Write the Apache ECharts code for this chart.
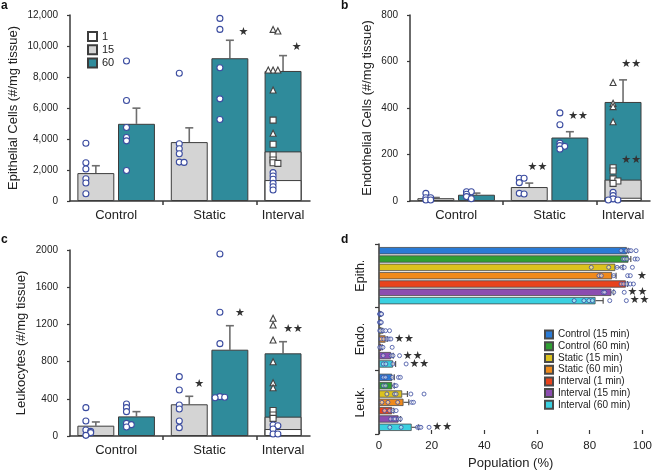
<!DOCTYPE html>
<html><head><meta charset="utf-8">
<script src="https://cdn.jsdelivr.net/npm/echarts@6/dist/echarts.min.js"></script>
<style>html,body{margin:0;padding:0;background:#fff}#c{width:655px;height:471px}</style>
</head><body><div id="c"></div>
<script>
// ================= DATA =================
const groupNames = ['Control', 'Static', 'Interval'];
// bar order: Control-15, Control-60, Static-15, Static-60, Interval-60, Interval-15, Interval-1
const barMinutes = [15, 60, 15, 60, 60, 15, 1];
const barGroup = [0, 0, 1, 1, 2, 2, 2];

// panel a: epithelial cells (#/mg tissue)
const epiMean = [1800, 4980, 3800, 9210, 8390, 3200, 1350];
const epiErr = [475, 1010, 920, 1160, 990, 380, 130];
const epiSig = ['', '', '', '★', '★', '', ''];
const epiPtsC15 = [3730, 2470, 2060, 1440, 1160, 470];
const epiPtsC60 = [9030, 6480, 4740, 4100, 3880, 1970];
const epiPtsS15 = [8240, 3690, 3370, 3050, 2510, 2490];
const epiPtsS60 = [12040, 11780, 11070, 8600, 6590, 5260];
const epiPtsI60 = [11070, 10970, 8450, 8450, 8450, 7160, 4370];
const epiPtsI15 = [5220, 3660, 2970, 2650, 2470, 2430];
const epiPtsI1 = [1830, 1610, 1400, 1140, 920, 710];

// panel b: endothelial cells
const endoMean = [12, 27, 60, 273, 426, 92, 14];
const endoErr = [3, 7, 17, 25, 95, 14, 3];
const endoSig = ['', '', '★★', '★★', '★★', '★★', ''];
const endoPtsC15 = [33, 14, 14, 4, 4];
const endoPtsC60 = [40, 40, 29, 19, 10];
const endoPtsS15 = [98, 98, 79, 33, 30];
const endoPtsS60 = [379, 328, 249, 238, 235, 223];
const endoPtsI60 = [803, 510, 420, 406, 341];
const endoPtsI15 = [143, 129, 95, 86, 76];
const endoPtsI1 = [37, 23, 9, 4, 4];

// panel c: leukocytes
const leukMean = [111, 211, 341, 928, 889, 208, 75];
const leukErr = [40, 51, 86, 258, 125, 21, 15];
const leukSig = ['', '', '★', '★', '★★', '', ''];
const leukPtsC15 = [305, 161, 65, 50, 36, 7];
const leukPtsC60 = [344, 305, 262, 136, 122, 97];
const leukPtsS15 = [638, 495, 333, 290, 161, 90];
const leukPtsS60 = [1957, 1330, 993, 423, 416, 412];
const leukPtsI60 = [1266, 1194, 1032, 799, 573, 519];
const leukPtsI15 = [275, 226, 190];
const leukPtsI1 = [118, 111, 75, 22, 22];

// panel d: population (%)
const popCats = ['Epith.', 'Endo.', 'Leuk.'];
const popNames = ['Control (15 min)', 'Control (60 min)', 'Static (15 min)', 'Static (60 min)',
  'Interval (1 min)', 'Interval (15 min)', 'Interval (60 min)'];
const epiPct = [94.1, 94.7, 89.7, 88.5, 93.7, 88.2, 82.2];
const epiPctErr = [0.5, 0.9, 3.0, 1.5, 0.7, 0.9, 2.9];
const endoPct = [0.5, 0.5, 1.0, 2.5, 0.9, 4.6, 5.3];
const endoPctErr = [0.2, 0.2, 0.4, 0.6, 0.4, 0.8, 1.0];
const leukPct = [5.0, 5.0, 8.8, 9.3, 5.0, 7.4, 12.4];
const leukPctErr = [0.8, 0.8, 2.0, 2.0, 0.6, 0.8, 2.6];
const epiPctPts = [
  [91.9, 93.9, 95.0, 95.7, 97.6], [92.6, 93.2, 94.1, 97.2, 98.1],
  [80.6, 87.2, 90.4, 92.2, 93.1, 96.2], [83.5, 84.4, 89.1, 94.4, 95.4],
  [91.9, 92.9, 94.1, 95.4, 96.6], [85.1, 85.7, 89.1, 93.1],
  [74.1, 77.8, 79.7, 81.0, 87.6, 93.9]];
const endoPctPts = [
  [0.2, 0.4, 0.6, 0.8, 1.0], [0.2, 0.4, 0.6, 0.9],
  [0.3, 0.6, 1.5, 2.5, 4.0], [0.8, 1.8, 3.0, 3.8, 4.5],
  [0.3, 0.9, 1.5, 5.0], [1.6, 4.6, 5.3, 7.8],
  [1.6, 2.6, 5.3, 10.3]];
const leukPctPts = [
  [1.6, 2.5, 5.0, 7.4, 8.1], [1.6, 2.5, 5.9, 6.5],
  [3.0, 5.9, 6.5, 12.1, 17.1], [1.1, 3.4, 7.1, 12.4, 13.1],
  [2.1, 4.0, 5.3, 6.5], [4.4, 5.6, 6.1, 7.4, 8.1],
  [4.1, 8.4, 14.6, 15.3, 15.9, 19.0]];
const epiPctSig = ['', '', '', '★', '', '★★', '★★'];
const endoPctSig = ['', '', '', '★★', '', '★★', '★★'];
const leukPctSig = ['', '', '', '', '', '', '★★'];

// ================= LAYOUT / STYLE =================
const FONT = '"Liberation Sans", Arial, sans-serif';
const AX = '#3a3a3a';
const TXT = '#222';
const XMAX = 6.5;
const slotX = [0.7, 1.8, 3.23, 4.33, 5.77, 5.77, 5.77];
const groupX = [1.25, 3.78, 5.77];
const sepX = [2.515, 5.05];
const minuteColor = {60: '#2f8b9b', 15: '#d4d4d4', 1: '#ffffff'};
const popColors = ['#2a7bd6', '#2f9f33', '#dcc21e', '#f08a1c', '#e8431c', '#8c4db0', '#3ad0e0'];
const grids = [
  {left: 70, top: 15, width: 240, height: 186},
  {left: 410, top: 15, width: 240, height: 186},
  {left: 70, top: 250, width: 240, height: 186},
  {left: 379, top: 244, width: 266, height: 191}
];
const unitPx = 240 / XMAX;

const series = [];
const xAxes = [];
const yAxes = [];

function jitter(vals, thr) {
  const pat = [0, 0.13, -0.13, 0.26, -0.26, 0.39];
  return vals.map((v, i) => {
    let k = 0;
    for (let j = 0; j < i; j++) if (Math.abs(vals[j] - v) < thr) k++;
    return pat[Math.min(k, pat.length - 1)];
  });
}

function buildPanel(g, means, errs, sigs, ptsList, yMax, yInt, yName, nameGap, comma, legendNames, starOff, starDx) {
  xAxes.push({
    type: 'value', gridIndex: g, min: 0, max: XMAX,
    splitLine: {show: false},
    axisLine: {lineStyle: {color: AX, width: 1.5}},
    axisTick: {customValues: sepX, length: 4, lineStyle: {color: AX, width: 1.5}},
    axisLabel: {
      customValues: groupX, fontSize: 13, color: TXT, fontFamily: FONT, margin: 8,
      formatter: function (v) {
        let best = 0;
        groupX.forEach((gx, i) => { if (Math.abs(gx - v) < Math.abs(groupX[best] - v)) best = i; });
        return groupNames[best];
      }
    }
  });
  yAxes.push({
    type: 'value', gridIndex: g, min: 0, max: yMax, interval: yInt,
    name: yName, nameLocation: 'middle', nameGap: nameGap,
    nameTextStyle: {fontSize: 13, color: TXT, fontFamily: FONT},
    splitLine: {show: false},
    axisLine: {show: true, lineStyle: {color: AX, width: 1.5}},
    axisTick: {show: true, length: 3, lineStyle: {color: AX, width: 1.2}},
    axisLabel: {fontSize: 10, color: TXT, fontFamily: FONT, margin: 12,
      formatter: v => comma ? v.toLocaleString('en-US') : String(v)}
  });
  // bars: draw 60 first (back), then 15, then 1 (front)
  [60, 15, 1].forEach(m => {
    const data = [];
    means.forEach((v, i) => { if (barMinutes[i] === m) data.push([slotX[i], v]); });
    series.push({
      type: 'bar', name: legendNames[m], xAxisIndex: g, yAxisIndex: g,
      barWidth: unitPx, barGap: '-100%', data: data, silent: true,
      itemStyle: {color: minuteColor[m], borderColor: '#3c3c3c', borderWidth: 1}
    });
  });
  // error bars
  series.push({
    type: 'custom', xAxisIndex: g, yAxisIndex: g, silent: true, clip: false,
    data: means.map((v, i) => [slotX[i], v, errs[i]]),
    renderItem: function (params, api) {
      const x = api.value(0), y = api.value(1), e = api.value(2);
      const p0 = api.coord([x, y]), p1 = api.coord([x, y + e]);
      const st = {stroke: '#6e6e6e', lineWidth: 1.6};
      return {type: 'group', children: [
        {type: 'line', shape: {x1: p0[0], y1: p0[1], x2: p1[0], y2: p1[1]}, style: st},
        {type: 'line', shape: {x1: p1[0] - 4, y1: p1[1], x2: p1[0] + 4, y2: p1[1]}, style: st}
      ]};
    }
  });
  // points
  ptsList.forEach((pts, i) => {
    const isI = barGroup[i] === 2;
    const m = barMinutes[i];
    let symbol = 'circle', border = '#3b4ca0', size = 6;
    if (isI && m === 60) { symbol = 'triangle'; border = '#444'; size = 6; }
    if (isI && m === 15) { symbol = 'rect'; border = '#444'; size = 6; }
    const jit = jitter(pts, yMax * 0.012);
    series.push({
      type: 'scatter', xAxisIndex: g, yAxisIndex: g, silent: true,
      symbol: symbol, symbolSize: size,
      itemStyle: {color: '#ffffff', borderColor: border, borderWidth: 1.1, opacity: 1},
      data: pts.map((v, j) => [slotX[i] - 0.27 + jit[j], v]), z: 5
    });
  });
  // significance stars
  series.push({
    type: 'custom', xAxisIndex: g, yAxisIndex: g, silent: true, clip: false, z: 6,
    data: sigs.map((s, i) => [slotX[i] + starDx, means[i] + errs[i] + starOff * yMax, i]).filter((d, i) => sigs[i]),
    renderItem: function (params, api) {
      const p = api.coord([api.value(0), api.value(1)]);
      return {type: 'text', x: p[0], y: p[1], style: {text: sigs[api.value(2)], fill: '#333',
        fontSize: 11, fontFamily: 'DejaVu Sans', align: 'center', verticalAlign: 'middle'}};
    }
  });
}

buildPanel(0, epiMean, epiErr, epiSig,
  [epiPtsC15, epiPtsC60, epiPtsS15, epiPtsS60, epiPtsI60, epiPtsI15, epiPtsI1],
  12000, 2000, 'Epithelial Cells (#/mg tissue)', 50, true, {60: '60', 15: '15', 1: '1'}, 0.045, 0.37);
buildPanel(1, endoMean, endoErr, endoSig,
  [endoPtsC15, endoPtsC60, endoPtsS15, endoPtsS60, endoPtsI60, endoPtsI15, endoPtsI1],
  800, 200, 'Endothelial Cells (#/mg tissue)', 36, false, {60: 'b60', 15: 'b15', 1: 'b1'}, 0.085, 0.22);
buildPanel(2, leukMean, leukErr, leukSig,
  [leukPtsC15, leukPtsC60, leukPtsS15, leukPtsS60, leukPtsI60, leukPtsI15, leukPtsI1],
  2000, 400, 'Leukocytes (#/mg tissue)', 42, false, {60: 'c60', 15: 'c15', 1: 'c1'}, 0.065, 0.27);

// ----- panel d -----
xAxes.push({
  type: 'value', gridIndex: 3, min: 0, max: 100, interval: 20,
  name: 'Population (%)', nameLocation: 'middle', nameGap: 23,
  nameTextStyle: {fontSize: 13, color: TXT, fontFamily: FONT},
  splitLine: {show: false},
  axisLine: {lineStyle: {color: AX, width: 1.5}},
  axisTick: {show: true, inside: true, length: 4, lineStyle: {color: AX, width: 1.2}},
  axisLabel: {fontSize: 11.5, color: TXT, fontFamily: FONT, margin: 6}
});
yAxes.push({
  type: 'category', gridIndex: 3, data: popCats, inverse: true,
  axisLine: {show: true, lineStyle: {color: AX, width: 1.5}},
  axisTick: {show: true, length: 4, lineStyle: {color: AX, width: 1.2}},
  axisLabel: {rotate: 90, fontSize: 12.5, color: TXT, fontFamily: FONT, margin: 12}
});
const D_BW = 7.3, D_GAP = 0.14;
const D_STEP = D_BW * (1 + D_GAP);
const D_TOTAL = 7 * D_BW + 6 * D_BW * D_GAP;
const dOff = k => -D_TOTAL / 2 + D_BW / 2 + k * D_STEP;
const pctMeans = [epiPct, endoPct, leukPct];
const pctErrs = [epiPctErr, endoPctErr, leukPctErr];
const pctPts = [epiPctPts, endoPctPts, leukPctPts];
const pctSig = [epiPctSig, endoPctSig, leukPctSig];
popNames.forEach((nm, k) => {
  series.push({
    type: 'bar', name: nm, xAxisIndex: 3, yAxisIndex: 3, barWidth: D_BW, barGap: (D_GAP * 100) + '%',
    data: pctMeans.map(a => a[k]), silent: true,
    itemStyle: {color: popColors[k], borderColor: '#4a4a4a', borderWidth: 0.8}
  });
});
// error bars d
const dErrData = [];
pctMeans.forEach((arr, c) => arr.forEach((v, k) => dErrData.push([v, c, pctErrs[c][k], k])));
series.push({
  type: 'custom', xAxisIndex: 3, yAxisIndex: 3, silent: true, clip: false, z: 4,
  data: dErrData,
  renderItem: function (params, api) {
    const v = api.value(0), c = api.value(1), e = api.value(2), k = api.value(3);
    const p0 = api.coord([v, c]), p1 = api.coord([v + e, c]);
    const y = p0[1] + dOff(k);
    const st = {stroke: '#555', lineWidth: 1.2};
    return {type: 'group', children: [
      {type: 'line', shape: {x1: p0[0], y1: y, x2: p1[0], y2: y}, style: st},
      {type: 'line', shape: {x1: p1[0], y1: y - 3, x2: p1[0], y2: y + 3}, style: st}
    ]};
  }
});
// points d
popNames.forEach((nm, k) => {
  const data = [];
  pctPts.forEach((grp, c) => grp[k].forEach(v => data.push([v, c])));
  series.push({
    type: 'scatter', xAxisIndex: 3, yAxisIndex: 3, silent: true, z: 5,
    symbol: 'circle', symbolSize: 4, symbolOffset: [0, dOff(k)],
    itemStyle: {color: 'rgba(255,255,255,0.6)', borderColor: '#3b4ca0', borderWidth: 1},
    data: data
  });
});
// stars d
const dStarData = [];
pctSig.forEach((arr, c) => arr.forEach((s, k) => {
  if (s) dStarData.push([Math.min(Math.max.apply(null, pctPts[c][k]) + 5, 99.8), c, k]);
}));
series.push({
  type: 'custom', xAxisIndex: 3, yAxisIndex: 3, silent: true, clip: false, z: 6,
  data: dStarData,
  renderItem: function (params, api) {
    const c = api.value(1), k = api.value(2);
    const p = api.coord([api.value(0), c]);
    return {type: 'text', x: p[0], y: p[1] + dOff(k), style: {text: pctSig[c][k], fill: '#333',
      fontSize: 11, fontFamily: 'DejaVu Sans', align: 'center', verticalAlign: 'middle'}};
  }
});

const option = {
  animation: false,
  backgroundColor: '#ffffff',
  grid: grids,
  xAxis: xAxes,
  yAxis: yAxes,
  legend: [
    {data: ['1', '15', '60'], orient: 'vertical', left: 87, top: 31, padding: 0,
      itemWidth: 9, itemHeight: 9, itemGap: 2.3, icon: 'rect', selectedMode: false,
      textStyle: {fontSize: 11, color: TXT, fontFamily: FONT}},
    {data: popNames, orient: 'vertical', left: 544, top: 329, padding: 0,
      itemWidth: 8, itemHeight: 8, itemGap: 0.5, icon: 'rect', selectedMode: false,
      textStyle: {fontSize: 10, color: TXT, fontFamily: FONT, lineHeight: 11.2}}
  ],
  graphic: [
    {type: 'text', left: 1, top: 0, style: {text: 'a', font: 'bold 12px ' + FONT, fill: '#111'}},
    {type: 'text', left: 341, top: 0, style: {text: 'b', font: 'bold 12px ' + FONT, fill: '#111'}},
    {type: 'text', left: 1, top: 234, style: {text: 'c', font: 'bold 12px ' + FONT, fill: '#111'}},
    {type: 'text', left: 341, top: 234, style: {text: 'd', font: 'bold 12px ' + FONT, fill: '#111'}}
  ],
  series: series
};
const chart = echarts.init(document.getElementById('c'));
chart.setOption(option);
</script></body></html>
